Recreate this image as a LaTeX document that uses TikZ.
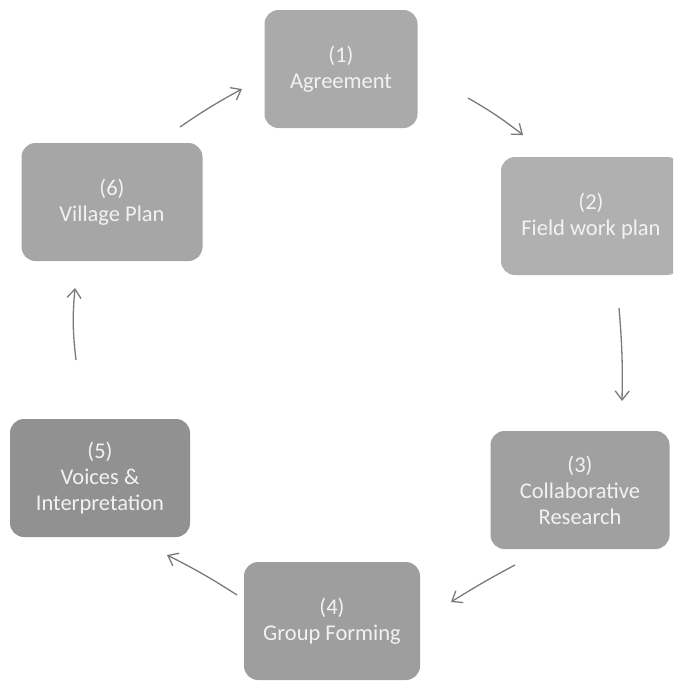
\documentclass[tikz,border=0pt]{standalone}
\usepackage{fontspec}
\setmainfont{Carlito}
\usetikzlibrary{arrows.meta}
\definecolor{boxtext}{HTML}{F2F2F2}
\definecolor{arrowc}{HTML}{7A7A7A}
\tikzset{
  stage/.style={draw=none, rounded corners=14pt, minimum width=#1, minimum height=118pt,
    text=boxtext, align=center, inner sep=2pt,
    font=\fontsize{22.5}{26}\selectfont},
  stage/.default=176pt,
  flow/.style={draw=arrowc, line width=1.3pt, -{Straight Barb[length=9pt,width=14pt]}}
}
\begin{document}
\begin{tikzpicture}[x=1pt,y=-1pt]
\useasboundingbox (0,0) rectangle (673,681);
\begin{scope}
\clip (0,0) rectangle (673,681);
\node[stage=153pt, fill={rgb,255:red,170;green,170;blue,170}] (s1) at (341,69) {(1)\\Agreement};
\node[stage=180pt, fill={rgb,255:red,176;green,176;blue,176}] (s2) at (591,216) {(2)\\Field work plan};
\node[stage=179pt, fill={rgb,255:red,160;green,160;blue,160}] (s3) at (580,490) {(3)\\Collaborative\\Research};
\node[stage=176pt, fill={rgb,255:red,158;green,158;blue,158}] (s4) at (332,621) {(4)\\Group Forming};
\node[stage=180pt, fill={rgb,255:red,145;green,145;blue,145}] (s5) at (100,478) {(5)\\Voices \&\\Interpretation};
\node[stage=181pt, fill={rgb,255:red,166;green,166;blue,166}] (s6) at (112,202) {(6)\\Village Plan};
\end{scope}
\coordinate (a12s) at (468,98);  \coordinate (a12e) at (523,135);
\coordinate (a23s) at (619,308); \coordinate (a23e) at (622,401);
\coordinate (a34s) at (515,565); \coordinate (a34e) at (451,602);
\coordinate (a45s) at (237,595); \coordinate (a45e) at (167,555);
\coordinate (a56s) at (76,360);  \coordinate (a56e) at (75,288);
\coordinate (a61s) at (180,127); \coordinate (a61e) at (242,89);
\draw[flow] (a12s) to[bend left=4] (a12e);
\draw[flow] (a23s) to[bend left=3] (a23e);
\draw[flow] (a34s) to[bend right=2] (a34e);
\draw[flow] (a45s) to[bend right=3] (a45e);
\draw[flow] (a56s) to[bend left=6] (a56e);
\draw[flow] (a61s) to[bend left=3] (a61e);
\end{tikzpicture}
\end{document}
